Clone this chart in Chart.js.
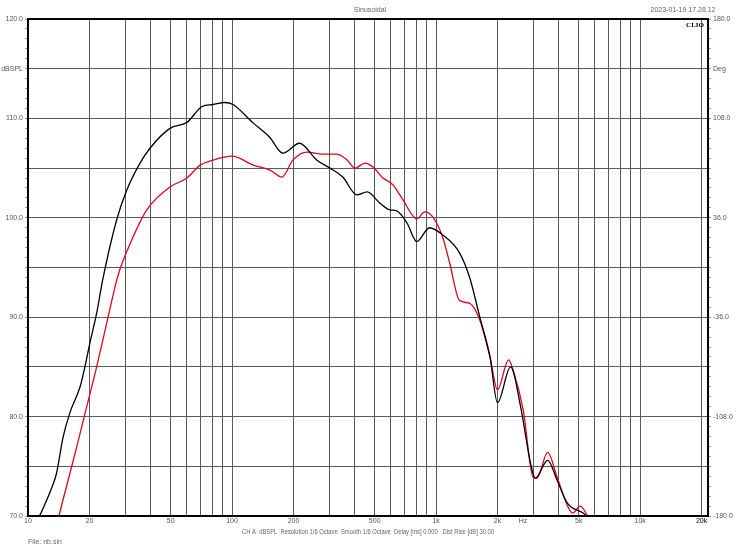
<!DOCTYPE html>
<html>
<head>
<meta charset="utf-8">
<script src="https://cdn.jsdelivr.net/npm/chart.js@4"></script>
<style>
  body { margin: 0; background: #fff; }
  #wrap { width: 740px; height: 555px; position: relative; }
</style>
</head>
<body>
<div id="wrap"><canvas id="clioChart"></canvas></div>
<script>
// black trace (Hz / dBSPL)
const blackFreq = [10.8, 11.4, 13.1, 13.8, 14.85, 16.05, 18.0, 19.0, 20.1, 21.7, 23.2, 27.2, 30.5, 35.4, 39.6, 49.6, 60.1, 71.3, 80.5, 92.1, 101.1,
  125.9, 152.8, 177.7, 213.9, 260.6, 302, 349, 409, 459, 529, 593, 641, 719, 804, 928, 1075, 1300, 1460, 1638, 1837, 1998, 2318,
  2595, 2903, 3063, 3522, 3917, 4397, 5255, 5740];
const blackDb = [69, 70, 72.9, 74.3, 77.9, 80.4, 83, 85, 87.4, 90.4, 93.7, 99.8, 102.8, 105.5, 107, 109, 109.6, 111.2, 111.4, 111.6, 111.4,
  109.6, 108.1, 106.5, 107.5, 105.8, 105, 104.1, 102.3, 102.6, 101.5, 100.8, 100.7, 99.5, 97.6, 99, 98.3, 96.5, 94, 90, 86, 81.4, 85,
  81, 75.3, 73.8, 75.6, 73.6, 71.3, 70.3, 69.6];

// red trace (Hz / dBSPL)
const redFreq = [14.0, 14.3, 16.05, 17.35, 19.4, 21.7, 24.3, 27.2, 28.2, 32.6, 38.2, 49.6, 60.1, 69.8, 80.5, 99.9, 127, 153.5, 175.7, 198.6, 232.8,
  278.5, 325.4, 367, 400.6, 448.6, 490.5, 549.3, 615.6, 688, 804, 880, 963, 1075, 1164, 1300, 1460, 1638, 1837, 1998, 2265, 2382, 2670,
  2989, 3117, 3522, 3917, 4430, 4665, 5087, 5665];
const redDb = [69.5, 70.3, 74.3, 77, 81, 85, 89.4, 93.7, 94.8, 98, 100.8, 103.1, 104, 105.3, 105.8, 106.2, 105.3, 104.8, 104.1, 105.8, 106.6,
  106.4, 106.4, 105.8, 105, 105.5, 105.1, 104, 103.3, 101.8, 99.9, 100.6, 100.1, 98.1, 95.5, 91.7, 91.4, 89.7, 86, 82.7, 85.7, 84.7, 80.7,
  73.9, 73.8, 76.4, 73.9, 70.9, 70.3, 71.0, 69.6];

const xTickValues = [10, 20, 50, 100, 200, 500, 1000, 2000, 5000, 10000, 20000];
const xTickLabels = ['10', '20', '50', '100', '200', '500', '1k', '2k', '5k', '10k', '20k'];
const hzLabelAt = 2667;

const toPts = (xs, ys) => xs.map((x, i) => ({ x: x, y: ys[i] }));

// grid at every 1..9 x decade
const freqGrid = [];
[10, 100, 1000, 10000].forEach(d => {
  for (let m = 1; m <= 9; m++) {
    if (d * m <= 20000) freqGrid.push(d * m);
  }
});
freqGrid.push(20000);

const tickFont = { family: 'Liberation Sans, Arial, sans-serif', size: 7 };
const gray = '#555';

const framePlugin = {
  id: 'frame',
  afterDraw(chart) {
    const { ctx, chartArea: a } = chart;
    ctx.save();
    ctx.strokeStyle = '#000';
    ctx.lineWidth = 2;
    ctx.strokeRect(a.left, a.top, a.right - a.left, a.bottom - a.top);
    ctx.fillStyle = '#666';
    ctx.font = '7px Liberation Sans, Arial, sans-serif';
    ctx.textAlign = 'center';
    ctx.textBaseline = 'middle';
    ctx.fillText('Sinusoidal', 370, 10);
    ctx.fillText('2023-01-19 17.28.12', 683, 10);
    ctx.fillText('CH A  dBSPL  Resolution 1/6 Octave  Smooth 1/6 Octave  Delay [ms] 0.000   Dist Rise [dB] 30.00', 368, 532, 252);
    ctx.textAlign = 'left';
    ctx.fillText('File: nb.sin', 28, 542);
    ctx.fillStyle = '#000';
    ctx.font = 'bold 7px Liberation Serif, serif';
    ctx.textAlign = 'right';
    ctx.fillText('CLIO', a.right - 4, a.top + 6);
    ctx.restore();
  }
};

document.addEventListener('DOMContentLoaded', function () {
  new Chart(document.getElementById('clioChart').getContext('2d'), {
    type: 'line',
    data: {
      datasets: [{
        label: 'black',
        data: toPts(blackFreq, blackDb),
        borderColor: '#000',
        borderWidth: 1.3,
        pointRadius: 0,
        cubicInterpolationMode: 'monotone',
        yAxisID: 'y'
      }, {
        label: 'red',
        data: toPts(redFreq, redDb),
        borderColor: '#e8001c',
        borderWidth: 1.3,
        pointRadius: 0,
        cubicInterpolationMode: 'monotone',
        yAxisID: 'y'
      }]
    },
    options: {
      responsive: true,
      maintainAspectRatio: false,
      animation: false,
      layout: { padding: { top: 19 } },
      plugins: { legend: { display: false }, tooltip: { enabled: false } },
      scales: {
        x: {
          type: 'logarithmic',
          min: 10,
          max: 21500,
          afterBuildTicks(scale) {
            scale.ticks = freqGrid.concat([hzLabelAt]).map(v => ({ value: v }));
          },
          afterFit(scale) { scale.height = 39; },
          ticks: {
            autoSkip: false,
            maxRotation: 0,
            color: gray,
            font: tickFont,
            padding: 1,
            callback(value) {
              if (value === hzLabelAt) return 'Hz';
              const i = xTickValues.indexOf(value);
              return i >= 0 ? xTickLabels[i] : '';
            }
          },
          grid: {
            color: ctx => ctx.tick && ctx.tick.value === hzLabelAt ? 'rgba(0,0,0,0)' : '#5a5a5a',
            lineWidth: 1,
            drawTicks: false
          },
          border: { display: false }
        },
        y: {
          position: 'left',
          min: 70,
          max: 120,
          afterBuildTicks(scale) {
            const t = [];
            for (let v = 70; v <= 120; v++) t.push({ value: v });
            scale.ticks = t;
          },
          afterFit(scale) { scale.width = 28; },
          ticks: {
            autoSkip: false,
            color: gray,
            font: tickFont,
            padding: 2,
            callback(value) {
              if (value === 115) return 'dBSPL';
              return value % 10 === 0 ? value.toFixed(1) : '';
            }
          },
          grid: {
            color: ctx => ctx.tick && ctx.tick.value % 5 === 0 ? '#5a5a5a' : 'rgba(0,0,0,0)',
            tickColor: '#999',
            tickLength: 3,
            lineWidth: 1
          },
          border: { display: false }
        },
        deg: {
          position: 'right',
          min: 70,
          max: 120,
          afterBuildTicks(scale) {
            const t = [];
            for (let v = 70; v <= 120; v++) t.push({ value: v });
            scale.ticks = t;
          },
          afterFit(scale) { scale.width = 32; },
          ticks: {
            autoSkip: false,
            color: gray,
            font: tickFont,
            padding: 2,
            callback(value) {
              if (value === 115) return 'Deg';
              return value % 10 === 0 ? ((value - 95) * 7.2).toFixed(1) : '';
            }
          },
          grid: {
            drawOnChartArea: false,
            tickColor: '#999',
            tickLength: 3
          },
          border: { display: false }
        }
      }
    },
    plugins: [framePlugin]
  });
});
</script>
</body>
</html>
